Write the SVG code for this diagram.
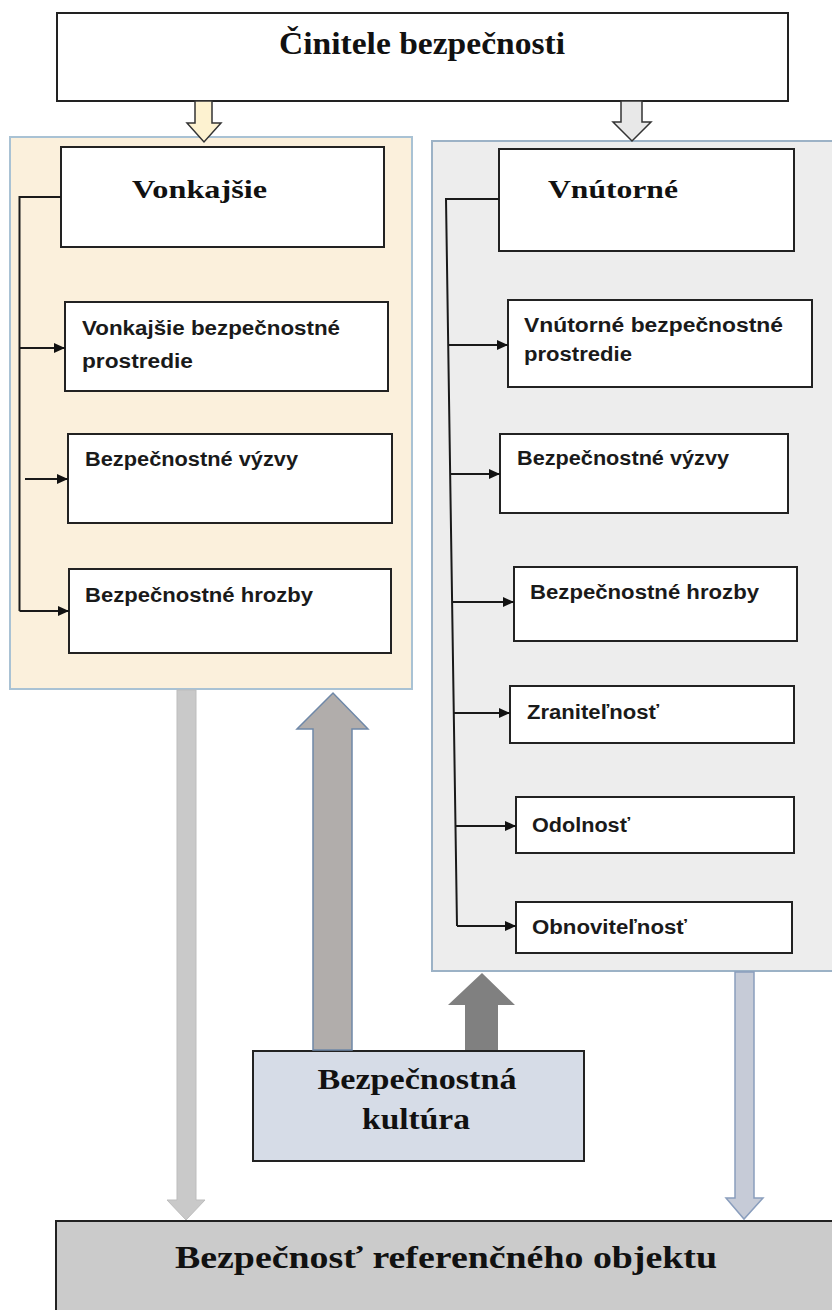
<svg xmlns="http://www.w3.org/2000/svg" width="832" height="1310" viewBox="0 0 832 1310">
<defs>
<style>
.box{fill:#ffffff;stroke:#222;stroke-width:2}
.serif{font-family:"Liberation Serif","Times New Roman",serif;font-weight:bold;fill:#111}
.sans{font-family:"Liberation Sans",Arial,sans-serif;font-weight:bold;font-size:20px;fill:#1a1a1a}
.con{stroke:#1a1a1a;stroke-width:2;fill:none}
</style>
<marker id="ah" markerUnits="userSpaceOnUse" markerWidth="12" markerHeight="10" refX="11" refY="5" orient="auto">
<path d="M0,0 L11,5 L0,10 z" fill="#111"/>
</marker>
</defs>
<rect width="832" height="1310" fill="#ffffff"/>

<g id="panel-left"><rect x="10" y="137" width="402" height="552" fill="#fbf0dc" stroke="#a9c2d4" stroke-width="2"/></g>
<g id="panel-right"><rect x="432" y="141" width="412" height="830" fill="#ededed" stroke="#9cb2c6" stroke-width="2"/></g>

<g id="top">
<rect class="box" x="57" y="13" width="731" height="88"/>
<text class="serif" x="422" y="54" font-size="31" text-anchor="middle" textLength="286" lengthAdjust="spacingAndGlyphs">Činitele bezpečnosti</text>
</g>

<g id="vonkajsie">
<rect class="box" x="61" y="147" width="323" height="100"/>
<text class="serif" x="132" y="198" font-size="25" textLength="135" lengthAdjust="spacingAndGlyphs">Vonkajšie</text>
</g>
<g id="v-prostredie">
<rect class="box" x="65" y="302" width="323" height="89"/>
<text class="sans" x="82" y="335" textLength="258" lengthAdjust="spacingAndGlyphs">Vonkajšie bezpečnostné</text>
<text class="sans" x="82" y="368" textLength="111" lengthAdjust="spacingAndGlyphs">prostredie</text>
</g>
<g id="v-vyzvy">
<rect class="box" x="68" y="434" width="324" height="89"/>
<text class="sans" x="85" y="466" textLength="213" lengthAdjust="spacingAndGlyphs">Bezpečnostné výzvy</text>
</g>
<g id="v-hrozby">
<rect class="box" x="69" y="569" width="322" height="84"/>
<text class="sans" x="85" y="602" textLength="228" lengthAdjust="spacingAndGlyphs">Bezpečnostné hrozby</text>
</g>

<g id="vnutorne">
<rect class="box" x="499" y="149" width="295" height="102"/>
<text class="serif" x="548" y="198" font-size="25" textLength="130" lengthAdjust="spacingAndGlyphs">Vnútorné</text>
</g>
<g id="n-prostredie">
<rect class="box" x="508" y="300" width="304" height="87"/>
<text class="sans" x="524" y="332" textLength="259" lengthAdjust="spacingAndGlyphs">Vnútorné bezpečnostné</text>
<text class="sans" x="524" y="361" textLength="108" lengthAdjust="spacingAndGlyphs">prostredie</text>
</g>
<g id="n-vyzvy">
<rect class="box" x="500" y="434" width="288" height="79"/>
<text class="sans" x="517" y="465" textLength="212" lengthAdjust="spacingAndGlyphs">Bezpečnostné výzvy</text>
</g>
<g id="n-hrozby">
<rect class="box" x="514" y="567" width="283" height="74"/>
<text class="sans" x="530" y="599" textLength="229" lengthAdjust="spacingAndGlyphs">Bezpečnostné hrozby</text>
</g>
<g id="n-zranitelnost">
<rect class="box" x="510" y="686" width="284" height="57"/>
<text class="sans" x="527" y="719" textLength="132" lengthAdjust="spacingAndGlyphs">Zraniteľnosť</text>
</g>
<g id="n-odolnost">
<rect class="box" x="516" y="797" width="278" height="56"/>
<text class="sans" x="532" y="832" textLength="98" lengthAdjust="spacingAndGlyphs">Odolnosť</text>
</g>
<g id="n-obnovitelnost">
<rect class="box" x="516" y="902" width="276" height="51"/>
<text class="sans" x="532" y="934" textLength="155" lengthAdjust="spacingAndGlyphs">Obnoviteľnosť</text>
</g>

<g id="kultura">
<rect x="253" y="1051" width="331" height="110" fill="#d6dce7" stroke="#222" stroke-width="2"/>
<text class="serif" x="417" y="1089" font-size="29" text-anchor="middle" textLength="199" lengthAdjust="spacingAndGlyphs">Bezpečnostná</text>
<text class="serif" x="416" y="1129" font-size="29" text-anchor="middle" textLength="108" lengthAdjust="spacingAndGlyphs">kultúra</text>
</g>

<g id="objekt">
<rect x="56" y="1221" width="790" height="100" fill="#cbcbcb" stroke="#222" stroke-width="2"/>
<text class="serif" x="446" y="1268" font-size="32" text-anchor="middle" textLength="542" lengthAdjust="spacingAndGlyphs">Bezpečnosť referenčného objektu</text>
</g>

<g id="connectors">
<polygon points="195,101 212,101 212,123 221,123 204,142 187,123 195,123" fill="#fdf2d0" stroke="#333" stroke-width="1.5"/>
<polygon points="621,101 642,101 642,122 651,122 632,141 613,122 621,122" fill="#e8e8e8" stroke="#333" stroke-width="1.5"/>

<polyline class="con" points="61,197 19.5,197 19.5,611"/>
<line class="con" x1="19.5" y1="348" x2="65" y2="348" marker-end="url(#ah)"/>
<line class="con" x1="25" y1="479" x2="68" y2="479" marker-end="url(#ah)"/>
<line class="con" x1="19.5" y1="611" x2="69" y2="611" marker-end="url(#ah)"/>

<polyline class="con" points="499,199 446,199 457,926"/>
<line class="con" x1="448" y1="345" x2="508" y2="345" marker-end="url(#ah)"/>
<line class="con" x1="450" y1="474" x2="500" y2="474" marker-end="url(#ah)"/>
<line class="con" x1="452" y1="602" x2="514" y2="602" marker-end="url(#ah)"/>
<line class="con" x1="454" y1="713" x2="510" y2="713" marker-end="url(#ah)"/>
<line class="con" x1="455.5" y1="826" x2="516" y2="826" marker-end="url(#ah)"/>
<line class="con" x1="457" y1="926" x2="516" y2="926" marker-end="url(#ah)"/>

<polygon points="177,690 196,690 196,1200 205,1200 186,1220 167,1200 177,1200" fill="#c9c9c9" stroke="#bdbdbd" stroke-width="1"/>
<polygon points="735,972 754,972 754,1198 763,1198 744,1219 726,1198 735,1198" fill="#c6cbd7" stroke="#8a9ebd" stroke-width="1.5"/>
<polygon points="313,1050 313,729 297,729 333,693 368,729 352,729 352,1050" fill="#b1adab" stroke="#6f88a8" stroke-width="1.5"/>
<polygon points="465,1050 465,1005 448,1005 482,973 515,1005 498,1005 498,1050" fill="#808080"/>
</g>
</svg>
